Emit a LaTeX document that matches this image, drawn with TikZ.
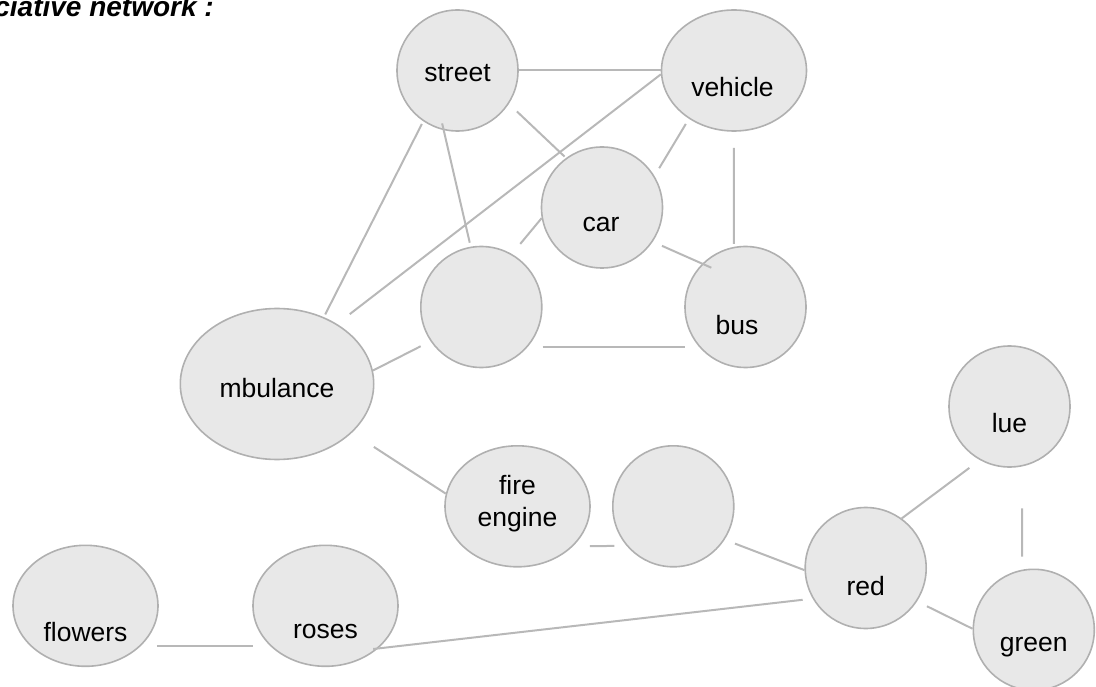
\documentclass[tikz,border=0pt]{standalone}
\usepackage{fontspec}
\setmainfont{Liberation Sans}
\usepackage{tikz}
\usetikzlibrary{positioning}
\usetikzlibrary{shapes}

\definecolor{bubble}{RGB}{232,232,232}
\definecolor{rim}{RGB}{176,176,176}
\definecolor{wire}{RGB}{184,184,184}

\begin{document}
\begin{tikzpicture}[x=1pt, y=-1pt, on grid,                                      % one unit per pixel, y downwards
        concept/.style = {ellipse, draw=rim, fill=bubble, line width=1.6pt, inner sep=0pt,
                          minimum width=121pt, minimum height=121pt},            % round concept nodes
        wide/.style = {minimum width=145pt},                                     % the flatter ovals
        tag/.style = {font=\fontsize{26.5}{32}\selectfont, anchor=base, inner sep=0pt},
        link/.style = {draw=wire, line width=2pt}]                               % plain grey links
    \useasboundingbox (0,0) rectangle (1096,687);
    \node[font=\fontsize{28}{32}\selectfont\bfseries\itshape, anchor=base east, inner sep=0pt] (title) at (214,17) {ciative network :};

    \node[concept, label={[tag, yshift=-2.5pt]center:street}] (street) at (457.5,70.5) {};
    \node[concept, wide, label={[tag, xshift=-1.5pt, yshift=-16.5pt]center:vehicle}] (vehicle) [right =276.5pt of street] {};
    \node[concept, label={[tag, xshift=-1pt, yshift=-17.5pt]center:car}] (car) [below right =137pt and 144.5pt of street] {};
    \node[concept] (blank1) [below right =236.5pt and 23.8pt of street] {};
    \node[concept, label={[tag, xshift=-8.5pt, yshift=-18pt]center:bus}] (bus) [right =264.2pt of blank1] {};
    \node[concept, minimum width=193.4pt, minimum height=151pt, label={[tag, yshift=-3.7pt]center:mbulance}] (mbulance) [below left =77pt and 204.3pt of blank1] {};
    \node[concept, wide, label={[tag, align=center, anchor=center, yshift=3pt]center:fire\\engine}] (fire) [below right =122.3pt and 240.5pt of mbulance] {};
    \node[concept] (blank2) [right =155.8pt of fire] {};
    \node[concept, label={[tag, yshift=-18pt]center:red}] (red) [below right =61.7pt and 192.4pt of blank2] {};
    \node[concept, label={[tag, yshift=-17pt]center:lue}] (lue) [above right =161.5pt and 143.8pt of red] {};
    \node[concept, label={[tag, yshift=-17pt]center:green}] (green) [below right =61.8pt and 168.1pt of red] {};
    \node[concept, wide, label={[tag, yshift=-26pt]center:roses}] (roses) [below left =99.5pt and 192pt of fire] {};
    \node[concept, wide, label={[tag, yshift=-26pt]center:flowers}] (flowers) [left =240pt of roses] {};

    %links of the upper cluster
    \path[link]
        (street.east) edge (vehicle.west)
        (vehicle.183) edge[shorten >=16pt] (mbulance.45)
        (street.236) edge[shorten <=3pt, shorten >=3pt] (mbulance.55)
        (street.257) edge[shorten <=-7pt, shorten >=4pt] (blank1.100)
        (street.327) edge[shorten <=11pt, shorten >=2pt] (car.126)
        (vehicle.227) edge[shorten <=6pt, shorten >=9pt] (car.31)
        (vehicle.south) edge[shorten <=16pt, shorten >=3pt] (bus.101)
        (car.190) edge[shorten >=13pt] (blank1.60)
        (car.326) edge[shorten <=10pt, shorten >=-10pt] (bus.135)
        (blank1.319) edge[shorten <=15pt, shorten >=14pt] (bus.221)
        (mbulance.8) edge[shorten >=11pt] (blank1.214);
    %links of the lower chain
    \path[link]
        (mbulance.327) edge[shorten <=26pt] (fire.170)
        (fire.324) edge[shorten <=17pt, shorten >=12pt] (blank2.220)
        (blank2.327) edge[shorten <=11pt] (red.182)
        (red.54) edge[shorten >=13pt] (lue.241)
        (lue.282) edge[shorten <=42pt, shorten >=13pt] (green.101)
        (red.327) edge[shorten <=11pt] (green.179)
        (red.210) edge[shorten <=10pt, shorten >=-5pt] (roses.321)
        (flowers.324) edge[shorten <=16pt, shorten >=17pt] (roses.216);
\end{tikzpicture}
\end{document}
